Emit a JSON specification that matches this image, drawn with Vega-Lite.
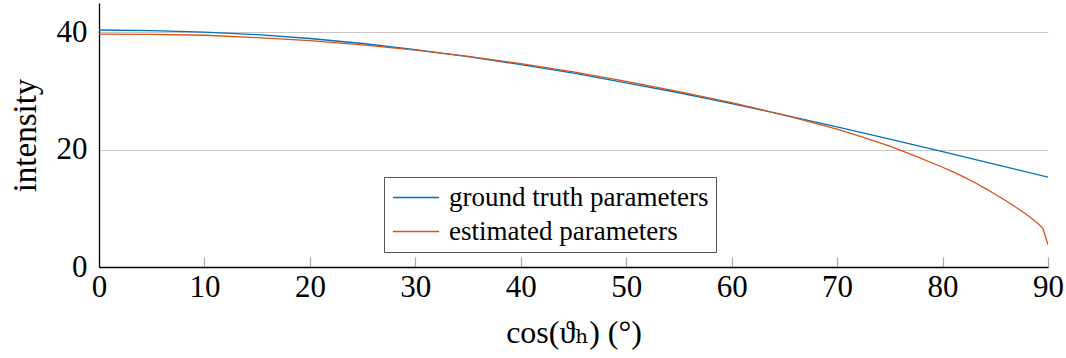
{
  "$schema": "https://vega.github.io/schema/vega-lite/v6.json",
  "autosize": "none",
  "width": 949,
  "height": 264,
  "padding": {"left": 99, "top": 3, "right": 18, "bottom": 91},
  "background": "white",
  "config": {
    "view": {"stroke": null},
    "font": "Liberation Serif, DejaVu Serif"
  },
  "data": {
    "values": [
      {"angle": 0, "intensity": 40.4, "series": "ground truth parameters"},
      {"angle": 5, "intensity": 40.3, "series": "ground truth parameters"},
      {"angle": 10, "intensity": 40.05, "series": "ground truth parameters"},
      {"angle": 15, "intensity": 39.6, "series": "ground truth parameters"},
      {"angle": 20, "intensity": 38.95, "series": "ground truth parameters"},
      {"angle": 25, "intensity": 38.1, "series": "ground truth parameters"},
      {"angle": 30, "intensity": 37.05, "series": "ground truth parameters"},
      {"angle": 35, "intensity": 35.85, "series": "ground truth parameters"},
      {"angle": 40, "intensity": 34.5, "series": "ground truth parameters"},
      {"angle": 45, "intensity": 33.05, "series": "ground truth parameters"},
      {"angle": 50, "intensity": 31.4, "series": "ground truth parameters"},
      {"angle": 55, "intensity": 29.7, "series": "ground truth parameters"},
      {"angle": 60, "intensity": 27.85, "series": "ground truth parameters"},
      {"angle": 65, "intensity": 25.9, "series": "ground truth parameters"},
      {"angle": 70, "intensity": 23.9, "series": "ground truth parameters"},
      {"angle": 75, "intensity": 21.8, "series": "ground truth parameters"},
      {"angle": 80, "intensity": 19.65, "series": "ground truth parameters"},
      {"angle": 85, "intensity": 17.5, "series": "ground truth parameters"},
      {"angle": 90, "intensity": 15.3, "series": "ground truth parameters"},
      {"angle": 0, "intensity": 39.7, "series": "estimated parameters"},
      {"angle": 5, "intensity": 39.65, "series": "estimated parameters"},
      {"angle": 10, "intensity": 39.5, "series": "estimated parameters"},
      {"angle": 15, "intensity": 39.1, "series": "estimated parameters"},
      {"angle": 20, "intensity": 38.6, "series": "estimated parameters"},
      {"angle": 25, "intensity": 37.85, "series": "estimated parameters"},
      {"angle": 30, "intensity": 36.95, "series": "estimated parameters"},
      {"angle": 35, "intensity": 35.9, "series": "estimated parameters"},
      {"angle": 40, "intensity": 34.65, "series": "estimated parameters"},
      {"angle": 45, "intensity": 33.25, "series": "estimated parameters"},
      {"angle": 50, "intensity": 31.65, "series": "estimated parameters"},
      {"angle": 55, "intensity": 29.9, "series": "estimated parameters"},
      {"angle": 60, "intensity": 28.0, "series": "estimated parameters"},
      {"angle": 65, "intensity": 25.9, "series": "estimated parameters"},
      {"angle": 70, "intensity": 23.5, "series": "estimated parameters"},
      {"angle": 72.5, "intensity": 22.1, "series": "estimated parameters"},
      {"angle": 75, "intensity": 20.6, "series": "estimated parameters"},
      {"angle": 77.5, "intensity": 18.85, "series": "estimated parameters"},
      {"angle": 80, "intensity": 17.0, "series": "estimated parameters"},
      {"angle": 81, "intensity": 16.2, "series": "estimated parameters"},
      {"angle": 82, "intensity": 15.35, "series": "estimated parameters"},
      {"angle": 83, "intensity": 14.45, "series": "estimated parameters"},
      {"angle": 84, "intensity": 13.45, "series": "estimated parameters"},
      {"angle": 85, "intensity": 12.4, "series": "estimated parameters"},
      {"angle": 86, "intensity": 11.3, "series": "estimated parameters"},
      {"angle": 87, "intensity": 10.15, "series": "estimated parameters"},
      {"angle": 88, "intensity": 8.9, "series": "estimated parameters"},
      {"angle": 89, "intensity": 7.5, "series": "estimated parameters"},
      {"angle": 89.5, "intensity": 6.65, "series": "estimated parameters"},
      {"angle": 90, "intensity": 3.8, "series": "estimated parameters"}
    ]
  },
  "mark": {"type": "line", "strokeWidth": 1.3, "clip": true},
  "encoding": {
    "x": {
      "field": "angle",
      "type": "quantitative",
      "scale": {"domain": [0, 90], "nice": false, "zero": false},
      "axis": {
        "title": "cos(ϑₕ) (°)",
        "titleFont": "Liberation Serif, DejaVu Serif",
        "titleFontSize": 32,
        "titleFontWeight": "normal",
        "titleColor": "black",
        "titlePadding": 15,
        "values": [0, 10, 20, 30, 40, 50, 60, 70, 80, 90],
        "labelFont": "Liberation Serif",
        "labelFontSize": 31,
        "labelColor": "black",
        "labelPadding": 15,
        "labelFlush": false,
        "grid": false,
        "domainColor": "black",
        "domainWidth": 1.3,
        "tickColor": "#aaaaaa",
        "tickSize": -10,
        "tickWidth": 1.2
      }
    },
    "y": {
      "field": "intensity",
      "type": "quantitative",
      "scale": {"domain": [0, 45], "nice": false},
      "axis": {
        "title": "intensity",
        "titleFont": "Liberation Serif",
        "titleFontSize": 33,
        "titleFontWeight": "normal",
        "titleColor": "black",
        "titlePadding": 14,
        "values": [0, 20, 40],
        "labelFont": "Liberation Serif",
        "labelFontSize": 31,
        "labelColor": "black",
        "labelPadding": 12,
        "labelFlush": false,
        "ticks": false,
        "grid": true,
        "gridColor": "#c8c8c8",
        "gridWidth": 1,
        "domainColor": "black",
        "domainWidth": 1.3
      }
    },
    "color": {
      "field": "series",
      "type": "nominal",
      "sort": ["ground truth parameters", "estimated parameters"],
      "scale": {
        "domain": ["ground truth parameters", "estimated parameters"],
        "range": ["#0072BD", "#D95319"]
      },
      "legend": {
        "title": null,
        "orient": "none",
        "legendX": 285,
        "legendY": 174,
        "fillColor": "white",
        "strokeColor": "#555555",
        "padding": 7,
        "symbolType": "M-1,0H3",
        "symbolSize": 529,
        "symbolStrokeWidth": 1.3,
        "labelFont": "Liberation Serif",
        "labelFontSize": 27,
        "labelLimit": 400,
        "labelColor": "black",
        "labelOffset": 31,
        "rowPadding": 6
      }
    }
  }
}
